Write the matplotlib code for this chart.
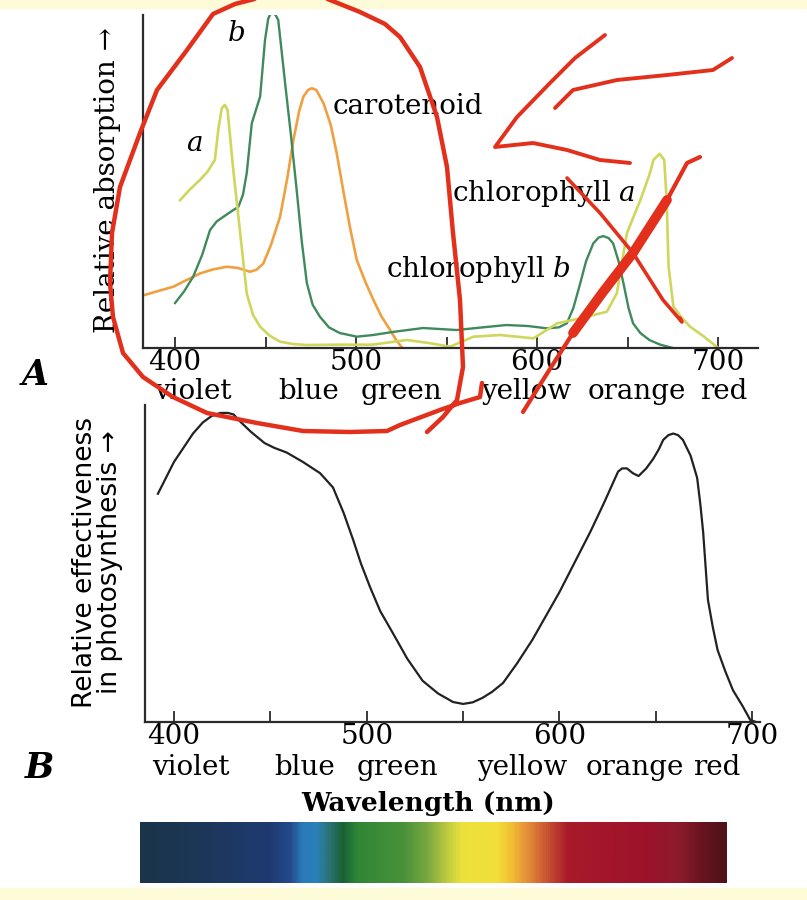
import numpy as np
import matplotlib
matplotlib.use("Agg")
import matplotlib.pyplot as plt
from matplotlib.colors import LinearSegmentedColormap
from matplotlib.patches import Rectangle

# --- panel A: absorption spectra (wavelength nm, relative absorption) ---
chl_a_wl = [402.8, 408, 413.8, 418, 422, 424, 425.8, 427.5, 429, 432, 436, 439.6, 443, 447, 452,
            458, 465, 472.8, 490, 509, 528, 540, 552, 564.8, 579.6, 598, 611, 623.8, 638.5,
            644, 649.6, 657, 662, 664.3, 667.6, 670.2, 671.5, 672.6, 675.3, 680, 684.5, 692, 700]
chl_a_val = [0.444, 0.475, 0.505, 0.53, 0.565, 0.66, 0.72, 0.73, 0.715, 0.544, 0.344, 0.164, 0.10,
             0.064, 0.038, 0.019, 0.012, 0.009, 0.01, 0.01, 0.024, 0.015, 0.004, 0.034, 0.039,
             0.029, 0.074, 0.089, 0.109, 0.164, 0.345, 0.444, 0.52, 0.565, 0.583, 0.565, 0.45,
             0.244, 0.124, 0.09, 0.064, 0.035, 0.0]

chl_b_wl = [400, 405, 410, 415, 419.3, 423, 426.7, 431, 435, 437.5, 439.6, 442.4, 447, 449.7,
            451.5, 453.4, 455.5, 457, 460.8, 464, 467, 470, 472.8, 476, 480, 485, 491, 500.4,
            509.4, 520, 537, 555.6, 570, 583, 595, 605.4, 612, 616.4, 620, 623.8, 627, 631,
            634, 636.6, 639.5, 642, 645, 647.7, 650.5, 653, 657, 662, 668, 675]
chl_b_val = [0.135, 0.17, 0.214, 0.28, 0.354, 0.38, 0.394, 0.41, 0.424, 0.46, 0.525, 0.675,
             0.755, 0.925, 0.99, 1.01, 1.0, 0.985, 0.795, 0.64, 0.484, 0.32, 0.195, 0.13, 0.094,
             0.062, 0.045, 0.034, 0.039, 0.048, 0.06, 0.054, 0.062, 0.069, 0.066, 0.059, 0.062,
             0.074, 0.12, 0.194, 0.26, 0.314, 0.332, 0.336, 0.33, 0.314, 0.26, 0.194, 0.12,
             0.074, 0.045, 0.024, 0.01, 0.0]

carot_wl = [383, 390, 399, 406, 413.8, 421, 428.6, 435, 441.4, 445, 448.8, 453, 458, 462,
            465.4, 468.5, 470.9, 473.5, 475.5, 478, 482, 486, 489.3, 493, 496.7, 500.4, 505,
            509.6, 514, 518.8, 522, 525]
carot_val = [0.159, 0.17, 0.184, 0.203, 0.224, 0.236, 0.244, 0.24, 0.229, 0.235, 0.254, 0.31,
             0.394, 0.51, 0.625, 0.71, 0.755, 0.775, 0.78, 0.775, 0.735, 0.67, 0.585, 0.47,
             0.36, 0.264, 0.2, 0.144, 0.095, 0.054, 0.025, 0.004]

# --- panel B: action spectrum ---
action_wl = [391.7, 400, 409.9, 415, 419.5, 424, 428, 431, 434, 440, 447, 452, 458.5, 467,
             475.8, 482.5, 488, 493, 497, 501.7, 507, 513.6, 521, 529, 537, 544.8, 550, 555,
             560, 565, 570.7, 578, 586, 593, 600, 608, 616, 623, 630.4, 632.5, 635, 638, 641,
             645, 648.6, 651.5, 653.8, 656.5, 659, 661.5, 664, 668, 671.4, 673, 674.5, 677,
             679.5, 682, 686, 690, 695, 699, 702]
action_val = [0.72, 0.82, 0.91, 0.945, 0.965, 0.975, 0.975, 0.97, 0.95, 0.915, 0.88, 0.865,
              0.85, 0.82, 0.785, 0.74, 0.66, 0.574, 0.5, 0.426, 0.35, 0.28, 0.2, 0.13, 0.09,
              0.063, 0.057, 0.062, 0.076, 0.095, 0.123, 0.185, 0.26, 0.335, 0.41, 0.505, 0.6,
              0.69, 0.79, 0.8, 0.8, 0.785, 0.776, 0.8, 0.83, 0.86, 0.89, 0.905, 0.91, 0.905,
              0.89, 0.84, 0.77, 0.69, 0.6, 0.385, 0.3, 0.227, 0.16, 0.10, 0.05, 0.006, 0.0]

major_ticks = [400, 500, 600, 700]
minor_ticks = [450, 550, 650]
colour_words = ["violet", "blue", "green", "yellow", "orange", "red"]
words_x_a = [410, 474, 525, 594, 655, 703]
words_x_b = [409, 468, 516, 580.6, 639, 681.5]

# spectrum bar colour stops
spec_pos = [0.0, 0.12, 0.22, 0.255, 0.275, 0.30, 0.32, 0.345, 0.37, 0.45, 0.49, 0.525,
            0.55, 0.61, 0.635, 0.66, 0.70, 0.73, 0.86, 0.92, 0.96, 1.0]
spec_col = ["#1a3548", "#1d375c", "#1f3a72", "#244a8c", "#2a7ab8", "#2a80b8", "#2a7478",
            "#1a6036", "#2f8635", "#4a923a", "#7aa840", "#c0cc40", "#ece23a", "#f2de3a",
            "#f0bc32", "#e4903a", "#c44a30", "#a81a2a", "#9e122a", "#8c1a2a", "#681420",
            "#4e1218"]

# hand-drawn red marks (figure pixel coordinates)
red_loop = [(482, 383), (480, 397), (460, 403), (440, 410), (400, 425), (387, 431),
            (350, 432), (303, 431), (257, 423), (207, 413), (173, 397), (143, 377),
            (123, 353), (113, 317), (110, 283), (112, 233), (120, 187), (140, 133),
            (157, 90), (187, 50), (213, 14), (235, 4), (270, -5), (320, -4), (360, 12),
            (385, 24), (400, 37), (420, 67), (437, 117), (447, 167), (453, 233),
            (460, 300), (463, 367), (457, 400), (443, 417), (427, 432)]
red_chevron = [(605, 35), (575, 58), (550, 83), (517, 117), (495, 147), (533, 143),
               (567, 150), (600, 160), (630, 163)]
red_sweep = [(555, 108), (573, 90), (617, 80), (667, 75), (713, 70), (732, 58)]
red_cross_thin = [(567, 178), (600, 213), (633, 253), (663, 300), (682, 322), (680, 318)]
red_cross_thick = [(523, 412), (548, 372), (573, 333), (603, 292), (633, 253), (667, 200),
                   (687, 163), (700, 157)]

RED = "#e2301c"
AXC = "#2b2b2b"

plt.rcParams["font.family"] = ["DejaVu Serif"]
plt.rcParams["mathtext.fontset"] = "dejavuserif"

fig = plt.figure(figsize=(8.07, 9.0), dpi=100)
fig.patch.set_facecolor("white")
fig.patches.append(Rectangle((0, 1 - 8 / 900), 1, 8 / 900, transform=fig.transFigure,
                             color="#fdfbd8", zorder=0))
fig.patches.append(Rectangle((0, 0), 1, 12 / 900, transform=fig.transFigure,
                             color="#fdfbd8", zorder=0))


def style_axis(ax, xlim):
    ax.set_xlim(*xlim)
    ax.set_ylim(0, 1)
    for s in ("top", "right"):
        ax.spines[s].set_visible(False)
    for s in ("left", "bottom"):
        ax.spines[s].set_color(AXC)
        ax.spines[s].set_linewidth(1.6)
    ax.set_yticks([])
    ax.set_xticks(major_ticks)
    ax.set_xticks(minor_ticks, minor=True)
    ax.tick_params(axis="x", which="both", direction="in", length=8, width=1.3,
                   color=AXC, labelsize=20, pad=1)
    ax.patch.set_alpha(0)


# panel A
axA = fig.add_axes([143 / 807, 1 - 348 / 900, 615 / 807, 333 / 900])
style_axis(axA, (382.3, 722))
axA.plot(carot_wl, carot_val, color="#f0a040", lw=1.9)
axA.plot(chl_b_wl, chl_b_val, color="#3f8a5c", lw=1.7)
axA.plot(chl_a_wl, chl_a_val, color="#cfd65c", lw=1.9)
axA.text(434.2, 0.945, "b", fontsize=20, style="italic", ha="center", va="center")
axA.text(410.5, 0.615, "a", fontsize=20, style="italic", ha="center", va="center")
axA.text(487.3, 0.725, "carotenoid", fontsize=20, ha="left", va="center")
axA.text(553, 0.465, r"chlorophyll $\mathit{a}$", fontsize=20, ha="left", va="center")
axA.text(516.6, 0.235, r"chlorophyll $\mathit{b}$", fontsize=20, ha="left", va="center")
for w, x in zip(colour_words, words_x_a):
    axA.text(x, -0.132, w, fontsize=20, ha="center", va="center",
             transform=axA.get_xaxis_transform())
fig.text(108 / 807, 1 - 180 / 900, "Relative absorption \u2192", rotation=90,
         fontsize=20, ha="center", va="center")
fig.text(35 / 807, 1 - 375 / 900, "A", fontsize=25, style="italic", weight="bold",
         ha="center", va="center")

# panel B
axB = fig.add_axes([145 / 807, 1 - 722 / 900, 615 / 807, 317 / 900])
style_axis(axB, (385, 704))
axB.plot(action_wl, action_val, color="#222222", lw=1.6)
for w, x in zip(colour_words, words_x_b):
    axB.text(x, -0.145, w, fontsize=20, ha="center", va="center",
             transform=axB.get_xaxis_transform())
fig.text(85 / 807, 1 - 562 / 900, "Relative effectiveness", rotation=90, fontsize=19,
         family="DejaVu Sans", ha="center", va="center")
fig.text(110 / 807, 1 - 562 / 900, "in photosynthesis \u2192", rotation=90, fontsize=19,
         family="DejaVu Sans", ha="center", va="center")
fig.text(40 / 807, 1 - 768 / 900, "B", fontsize=25, style="italic", weight="bold",
         ha="center", va="center")
fig.text(428 / 807, 1 - 803 / 900, "Wavelength (nm)", fontsize=19, weight="bold",
         ha="center", va="center")

# spectrum bar
axS = fig.add_axes([140 / 807, 1 - 883 / 900, 587 / 807, 61 / 900])
cmap = LinearSegmentedColormap.from_list("spec", list(zip(spec_pos, spec_col)))
axS.imshow(np.linspace(0, 1, 600)[None, :], aspect="auto", cmap=cmap)
axS.set_axis_off()

# red hand-drawn overlay
axR = fig.add_axes([0, 0, 1, 1], zorder=10)
axR.set_xlim(0, 807)
axR.set_ylim(900, 0)
axR.set_axis_off()
axR.patch.set_alpha(0)
for stroke, lw in [(red_loop, 3.2), (red_chevron, 2.8), (red_sweep, 2.8),
                   (red_cross_thin, 2.6), (red_cross_thick, 3.0)]:
    xs, ys = zip(*stroke)
    axR.plot(xs, ys, color=RED, lw=lw, solid_capstyle="round", solid_joinstyle="round")
mid = red_cross_thick[2:6]
xs, ys = zip(*mid)
axR.plot(xs, ys, color=RED, lw=7, solid_capstyle="round")

fig.savefig("out.png", dpi=100)
